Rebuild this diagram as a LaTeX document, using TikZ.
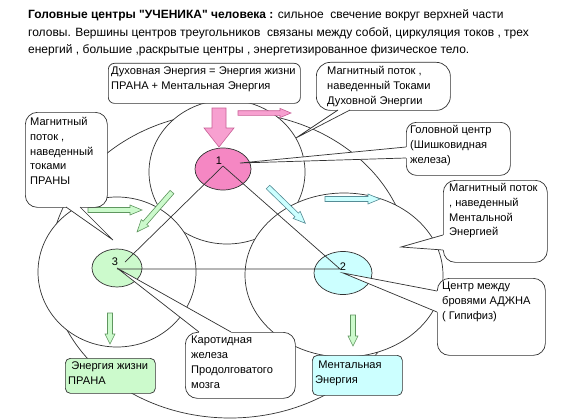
\documentclass[tikz,border=0pt]{standalone}
\usepackage{fontspec}
\setmainfont{Liberation Sans}[Ligatures=TeXOff]
\usetikzlibrary{shapes.geometric}
\definecolor{lgreen}{RGB}{204,250,204}
\definecolor{lcyan}{RGB}{204,255,255}
\definecolor{npink}{RGB}{245,135,195}
\definecolor{apink}{RGB}{247,160,208}
\definecolor{lc}{RGB}{50,50,50}
\definecolor{gborder}{RGB}{95,150,95}
\definecolor{cborder}{RGB}{85,140,150}
\definecolor{pborder}{RGB}{200,95,150}
\tikzset{
  ln/.style={draw=lc, line width=0.7pt},
  bub/.style={ln, fill=white, anchor=north west, inner sep=0pt, rectangle},
  btxt/.style={anchor=north west, inner sep=0pt, align=left,
    font=\fontsize{11.1}{14.8}\selectfont, execute at begin node=\strut},
  bigc/.style={ln, fill=white},
  cnode/.style={ellipse, ln, inner sep=0pt},
  lab/.style={inner sep=0pt, font=\fontsize{11}{13}\selectfont},
  pinkarr/.style={fill=apink, draw=pborder, line width=0.6pt},
  greenarr/.style={fill=lgreen, draw=gborder, line width=0.6pt},
  cyanarr/.style={fill=lcyan, draw=cborder, line width=0.6pt},
}
\newcommand\blkarr[8]{%
  \begin{scope}[shift={(#1,#2)},rotate=#3]
    \path[#8] (0,-#5) -- ({#4-#7},-#5) -- ({#4-#7},-#6) -- (#4,0) -- ({#4-#7},#6) -- ({#4-#7},#5) -- (0,#5) -- cycle;
  \end{scope}}
\begin{document}
\begin{tikzpicture}[x=1pt,y=-1pt]
\fill[white] (0,0) rectangle (562,420);
\useasboundingbox (0,0) rectangle (562,420);

% title
\node[anchor=north west, inner sep=0pt, align=left, font=\fontsize{12}{17.5}\selectfont, execute at begin node=\strut] (title) at (28,9.5)
 {\textbf{Головные центры "УЧЕНИКА" человека :} сильное\ \ свечение вокруг верхней части\\
  головы. Вершины центров треугольников\ \ связаны между собой, циркуляция токов , трех\\
  енергий , большие ,раскрытые центры , энергетизированное физическое тело.};

% outer ellipse and big circles
\path[ln] (230,265) ellipse [x radius=180pt, y radius=153pt];
\path[bigc] (227,172) ellipse [x radius=78pt, y radius=72pt];
\path[bigc] (117,272) ellipse [x radius=79pt, y radius=75pt];
\path[bigc] (344,275) ellipse [x radius=99pt, y radius=82pt];

% centre nodes
\node[cnode, fill=npink, minimum width=56pt, minimum height=42pt] (n1) at (223,169) {};
\node[cnode, fill=lcyan, minimum width=58pt, minimum height=43pt] (n2) at (343,273) {};
\node[cnode, fill=lgreen, minimum width=50pt, minimum height=38pt] (n3) at (117,268) {};
\node[lab] (l1) at (219,161) {1};
\node[lab] (l2) at (343,267) {2};
\node[lab] (l3) at (115,262) {3};
\coordinate (v1) at (223,166);
\coordinate (v2) at (340,269);
\coordinate (v3) at (117,269);
\coordinate (v3b) at (125,262);
\draw[ln] (v3b) -- (v1) -- (v2) -- (v3);

% block arrows
\blkarr{219}{108}{-90}{39}{7}{15}{19}{pinkarr}
\blkarr{238}{113}{0}{53}{2.3}{4.6}{11}{pinkarr}
\blkarr{88}{210}{0}{54}{2.5}{5}{12}{greenarr}
\blkarr{172}{192}{228.8}{53}{2.5}{5}{12}{greenarr}
\blkarr{268}{187}{-44.2}{52}{2.5}{5}{12}{cyanarr}
\blkarr{325}{199}{0}{55}{2.5}{5}{12}{cyanarr}
\blkarr{110}{313}{-90}{31}{2.5}{5}{10}{greenarr}
\blkarr{353}{315}{-90}{31}{2.5}{5}{10}{greenarr}

% bubbles
\node[bub, rounded corners=6pt, minimum width=192pt, minimum height=40pt] (b1) at (108,63) {};
\node[bub, rounded corners=14pt, minimum width=134pt, minimum height=48pt] (b2) at (316,62) {};
\node[bub, rounded corners=10pt, minimum width=104pt, minimum height=53pt] (b3) at (406,122) {};
\node[bub, rounded corners=12pt, minimum width=104pt, minimum height=82pt] (b4) at (443,180) {};
\node[bub, rounded corners=12pt, minimum width=108pt, minimum height=77pt] (b5) at (437,278) {};
\node[bub, rounded corners=12pt, minimum width=82pt, minimum height=95pt] (b6) at (25,112) {};
\node[bub, fill=lgreen, rounded corners=5pt, minimum width=90pt, minimum height=35pt] (b7) at (65,358) {};
\node[bub, rounded corners=12pt, minimum width=110pt, minimum height=66pt] (b8) at (185,332) {};
\node[bub, fill=lcyan, rounded corners=5pt, minimum width=90pt, minimum height=40pt] (b9) at (312,355) {};

% callout tails
\coordinate (t2a) at (338,110); \coordinate (t2b) at (350,110); \coordinate (t2) at (296,138);
\fill[white] (338,107) -- (t2a) -- (t2) -- (t2b) -- (350,107) -- cycle;
\draw[ln] (t2a) -- (t2) -- (t2b);
\coordinate (t3a) at (406,147); \coordinate (t3b) at (406,158); \coordinate (t3) at (240,163);
\fill[white] (409,147) -- (t3a) -- (t3) -- (t3b) -- (409,158) -- cycle;
\draw[ln] (t3a) -- (t3) -- (t3b);
\coordinate (t4a) at (443,235); \coordinate (t4b) at (443,250); \coordinate (t4) at (401,247);
\fill[white] (446,235) -- (t4a) -- (t4) -- (t4b) -- (446,250) -- cycle;
\draw[ln] (t4a) -- (t4) -- (t4b);
\coordinate (t5a) at (437,291); \coordinate (t5b) at (437,312); \coordinate (t5) at (n2.center);
\fill[white] (440,291) -- (t5a) -- (t5) -- (t5b) -- (440,312) -- cycle;
\draw[ln] (t5a) -- (t5) -- (t5b);
\coordinate (t6a) at (66,207); \coordinate (t6b) at (80,207); \coordinate (t6) at (113,240);
\fill[white] (66,204) -- (t6a) -- (t6) -- (t6b) -- (80,204) -- cycle;
\draw[ln] (t6a) -- (t6) -- (t6b);
\coordinate (t8a) at (199,332); \coordinate (t8b) at (231,332); \coordinate (t8) at (n3.center);
\fill[white] (199,335) -- (t8a) -- (t8) -- (t8b) -- (231,335) -- cycle;
\draw[ln] (t8a) -- (t8) -- (t8b);

% bubble texts
\node[btxt] (x1) at (111,67) {Духовная Энергия = Энергия жизни\\ПРАНА + Ментальная Энергия};
\node[btxt] (x2) at (327,66) {Магнитный поток ,\\наведенный Токами\\Духовной Энергии};
\node[btxt] (x3) at (410,125) {Головной центр\\(Шишковидная\\железа)};
\node[btxt] (x4) at (449,183) {Магнитный поток\\, наведенный\\Ментальной\\Энергией};
\node[btxt] (x5) at (442,282) {Центр между\\бровями АДЖНА\\( Гипифиз)};
\node[btxt] (x6) at (30,117) {Магнитный\\поток ,\\наведенный\\токами\\ПРАНЫ};
\node[btxt] (x7) at (68,362) {\ Энергия жизни\\ПРАНА};
\node[btxt] (x8) at (191,336) {Каротидная\\железа\\Продолговатого\\мозга};
\node[btxt] (x9) at (315,361) {\ Ментальная\\Энергия};
\end{tikzpicture}
\end{document}
